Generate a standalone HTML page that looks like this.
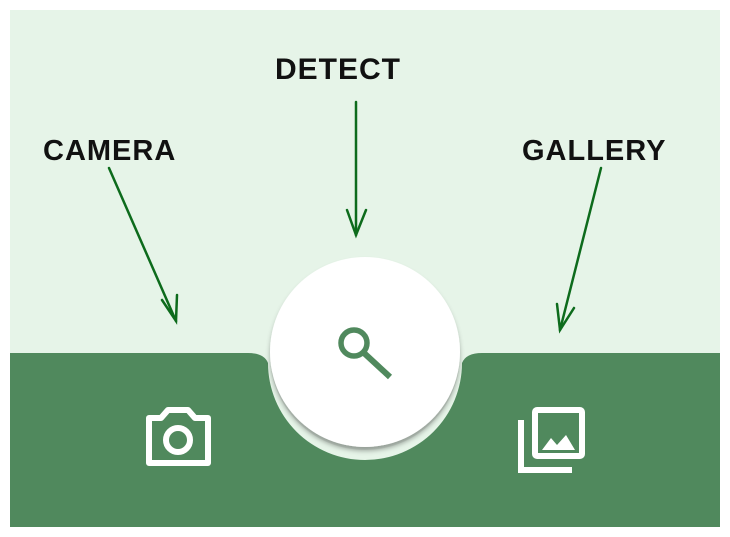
<!DOCTYPE html>
<html><head><style>
html,body{margin:0;padding:0;background:#fff;}
svg{display:block}
text{font-family:"Liberation Sans",sans-serif;font-weight:bold;fill:#111;}
</style></head><body>
<svg width="730" height="537" viewBox="0 0 730 537" xmlns="http://www.w3.org/2000/svg">
<defs>
<filter id="sh" x="-20%" y="-20%" width="140%" height="150%">
<feDropShadow dx="0" dy="4" stdDeviation="2.5" flood-color="#000" flood-opacity="0.3"/>
</filter>
</defs>
<rect x="10" y="10" width="710" height="517" fill="#e6f4e8"/>
<path d="M10 353 H248 Q264 353 268 363 A97 97 0 0 0 462 363 Q466 353 482 353 H720 V527 H10 Z" fill="#50895d"/>
<circle cx="365" cy="355" r="95" fill="#d6e3d8"/>
<circle cx="365" cy="352" r="95" fill="#fff" filter="url(#sh)"/>
<circle cx="354" cy="343" r="13" fill="none" stroke="#50895d" stroke-width="5.5"/>
<line x1="364" y1="353" x2="390" y2="377" stroke="#50895d" stroke-width="6"/>
<path d="M149 418 H161 L168 410 H188 L195 418 H208 V463 H149 Z" fill="none" stroke="#fff" stroke-width="6" stroke-linejoin="round"/>
<circle cx="178" cy="440" r="12" fill="none" stroke="#fff" stroke-width="6"/>
<path d="M521 420 V470 H572" fill="none" stroke="#fff" stroke-width="6"/>
<rect x="535" y="410" width="47" height="46" rx="2" fill="none" stroke="#fff" stroke-width="6"/>
<path d="M542 450 L551 438 L557 445 L566 435 L575 450 Z" fill="#fff"/>
<text x="275" y="79" font-size="30" letter-spacing="1">DETECT</text>
<text x="43" y="160" font-size="29" letter-spacing="1">CAMERA</text>
<text x="522" y="160" font-size="29" letter-spacing="1">GALLERY</text>
<g stroke="#0d6b1c" stroke-width="2.5" fill="none" stroke-linecap="round">
<line x1="356" y1="102" x2="356" y2="235"/>
<path d="M347 210 L356 235 L366 210"/>
<line x1="109" y1="168" x2="176" y2="321"/>
<path d="M162 300 L176 321 L177 295"/>
<line x1="601" y1="168" x2="560" y2="330"/>
<path d="M557 304 L560 330 L574 308"/>
</g>
</svg>
</body></html>
